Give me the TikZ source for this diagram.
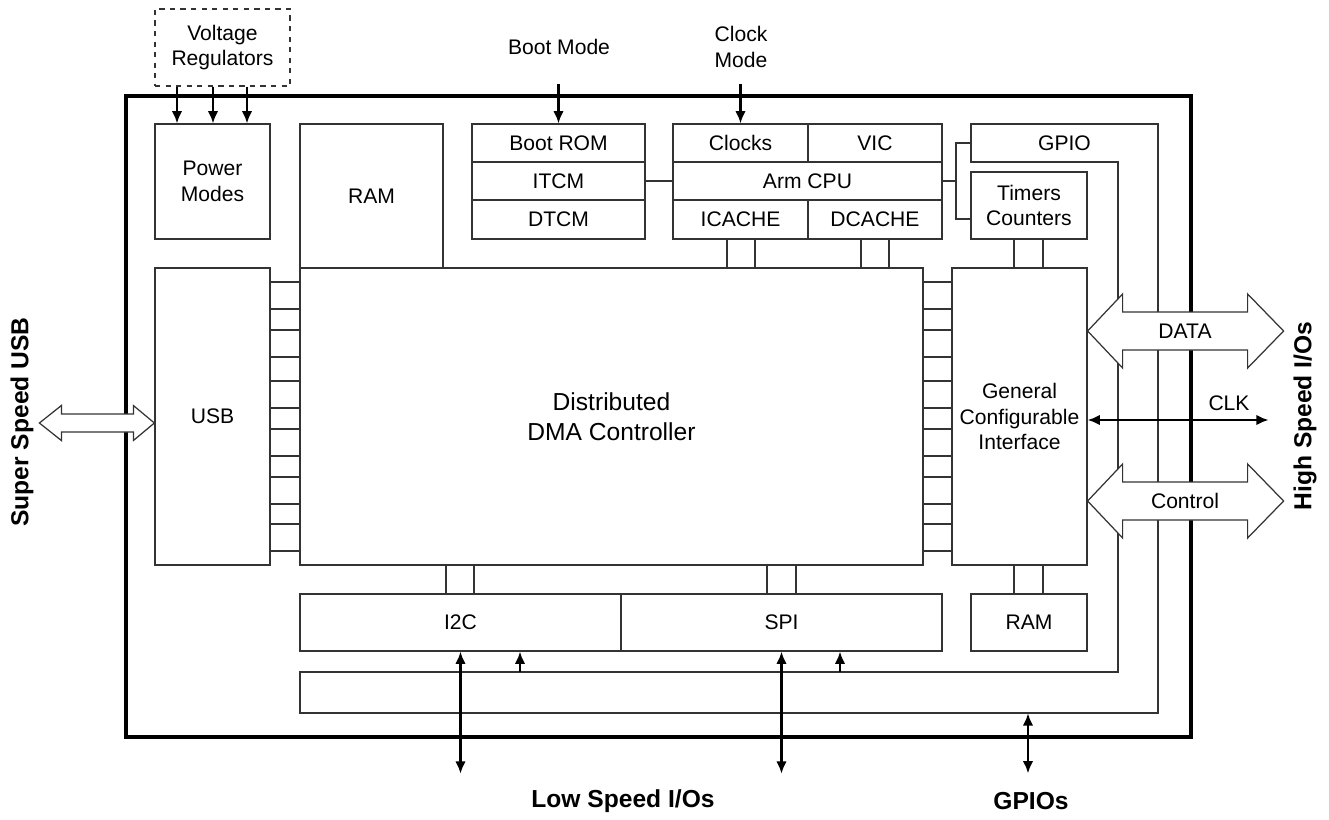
\documentclass[tikz,border=0pt]{standalone}
\usepackage{fontspec}
\setmainfont{Liberation Sans}
\usetikzlibrary{arrows.meta,fit}

\tikzset{
  blk/.style={draw=black!80,line width=0.7pt,inner sep=0pt},
  txt/.style={inner sep=0pt,align=center,font=\fontsize{12}{14.7}\selectfont},
  io/.style={inner sep=0pt,font=\bfseries\fontsize{14}{17}\selectfont},
  thinline/.style={draw=black!80,line width=0.7pt},
  arr/.style={line width=1.3pt,-{Latex[length=7pt,width=6pt]}},
  darr/.style={line width=1.3pt,{Latex[length=7pt,width=6pt]}-{Latex[length=7pt,width=6pt]}},
  fat/.style={draw=black!80,line width=0.7pt,fill=white,line join=miter}
}

\begin{document}
\begin{tikzpicture}[x=0.02cm,y=-0.02cm]
\useasboundingbox (0,0) rectangle (1329,819);

% chip outline
\draw[line width=2.3pt] (126,96) rectangle (1191,737);

% GPIO bus round the chip
\draw[thinline] (971,124) -- (1158,124) -- (1158,713) -- (300,713) -- (300,672)
  -- (1118,672) -- (1118,162) -- (971,162) -- cycle;
\node[inner sep=0pt,fit={(971,124) (1158,162)},label={[txt]center:GPIO}] (gpio) {};
\node[inner sep=0pt,fit={(300,672) (1158,713)}] (bar) {};

% blocks
\node[blk,dashed,fit={(155,9) (290,86)},label={[txt]center:Voltage\\Regulators}] (vreg) {};
\node[blk,fit={(155,124) (270,239)},label={[txt]center:Power\\Modes}] (pmodes) {};
\node[blk,fit={(300,124) (443,268)},label={[txt]center:RAM}] (ramtop) {};
\node[blk,fit={(155,268) (270,565)},label={[txt]center:USB}] (usb) {};
\node[blk,fit={(300,268) (923,565)},
  label={[txt,font=\fontsize{14}{17}\selectfont]center:Distributed\\DMA Controller}] (dma) {};
\node[blk,fit={(952,268) (1087,565)},label={[txt]center:General\\Configurable\\Interface}] (gci) {};

\node[blk,fit={(472,124) (645,162)},label={[txt]center:Boot ROM}] (bootrom) {};
\node[blk,fit={(472,162) (645,200)},label={[txt]center:ITCM}] (itcm) {};
\node[blk,fit={(472,200) (645,239)},label={[txt]center:DTCM}] (dtcm) {};

\node[blk,fit={(673,124) (808,162)},label={[txt]center:Clocks}] (clocks) {};
\node[blk,fit={(808,124) (942,162)},label={[txt]center:VIC}] (vic) {};
\node[blk,fit={(673,162) (942,200)},label={[txt]center:Arm CPU}] (cpu) {};
\node[blk,fit={(673,200) (808,239)},label={[txt]center:ICACHE}] (icache) {};
\node[blk,fit={(808,200) (942,239)},label={[txt]center:DCACHE}] (dcache) {};

\node[blk,fit={(971,172) (1087,239)},label={[txt]center:Timers\\Counters}] (timers) {};
\node[blk,fit={(971,594) (1087,651)},label={[txt]center:RAM}] (rambot) {};
\node[blk,fit={(300,594) (621,651)},label={[txt]center:I2C}] (i2c) {};
\node[blk,fit={(621,594) (942,651)},label={[txt]center:SPI}] (spi) {};

% small links between blocks
\foreach \y in {282,330,381,429,477,524}{
  \draw[thinline] (usb.east |- 0,\y) rectangle (dma.west |- 0,\y+27);
  \draw[thinline] (dma.east |- 0,\y) rectangle (gci.west |- 0,\y+27);
}
\draw[thinline] (727,0 |- icache.south) rectangle (755,0 |- dma.north);
\draw[thinline] (861,0 |- dcache.south) rectangle (889,0 |- dma.north);
\draw[thinline] (1014,0 |- timers.south) rectangle (1043,0 |- gci.north);
\draw[thinline] (1014,0 |- gci.south) rectangle (1043,0 |- rambot.north);
\draw[thinline] (446,0 |- dma.south) rectangle (474,0 |- i2c.north);
\draw[thinline] (767,0 |- dma.south) rectangle (796,0 |- spi.north);

\draw[thinline] (itcm.east) -- (cpu.west);
\draw[thinline] (cpu.east) -- (956,0 |- cpu.east);
\draw[thinline] (gpio.west) -- (956,0 |- gpio.west) -- (956,219) -- (timers.west |- 0,219);

% inputs from the top
\node[txt] (bootmode) at (559,47) {Boot Mode};
\node[txt] (clockmode) at (741,47) {Clock\\Mode};
\draw[arr] ([yshift=0.78cm]bootrom.north) -- (bootrom.north);
\draw[arr] ([yshift=0.78cm]clocks.north) -- (clocks.north);
\foreach \x in {177,213,247}
  \draw[arr] (\x,0 |- vreg.south) -- (\x,0 |- pmodes.north);

% low speed and gpio pins
\draw[darr] (i2c.south) -- ++(0,122);
\draw[darr] (spi.south) -- ++(0,122);
\draw[arr] (520,0 |- bar.north) -- (520,0 |- i2c.south);
\draw[arr] (840,0 |- bar.north) -- (840,0 |- spi.south);
\draw[darr] (1028,0 |- bar.south) -- ++(0,60);

% high speed interface
\draw[fat] (gci.east |- 0,331) -- ++(35,-37) -- ++(0,18) -- ++(125,0) -- ++(0,-18)
  -- ++(36,37) -- ++(-36,37) -- ++(0,-18) -- ++(-125,0) -- ++(0,18) -- cycle;
\draw[fat] (gci.east |- 0,501) -- ++(35,-37) -- ++(0,18) -- ++(125,0) -- ++(0,-18)
  -- ++(36,37) -- ++(-36,37) -- ++(0,-18) -- ++(-125,0) -- ++(0,18) -- cycle;
\node[txt] (data) at (1185,331) {DATA};
\node[txt] (control) at (1185,501) {Control};
\draw[darr] (gci.east |- 0,420) -- ++(181,0);
\node[txt] (clk) at (1229,403) {CLK};

% usb port
\draw[fat] (usb.west |- 0,423) -- ++(-21,-17.5) -- ++(0,8.5) -- ++(-72,0) -- ++(0,-8.5)
  -- ++(-22,17.5) -- ++(22,17.5) -- ++(0,-8.5) -- ++(72,0) -- ++(0,8.5) -- cycle;

% outside labels
\node[io,rotate=90] (ssusb) at (22,422) {Super Speed USB};
\node[io,rotate=90] (hsio) at (1305,416) {High Speed I/Os};
\node[io] (lsio) at (623,801) {Low Speed I/Os};
\node[io] (gpios) at (1031,801) {GPIOs};
\end{tikzpicture}
\end{document}
